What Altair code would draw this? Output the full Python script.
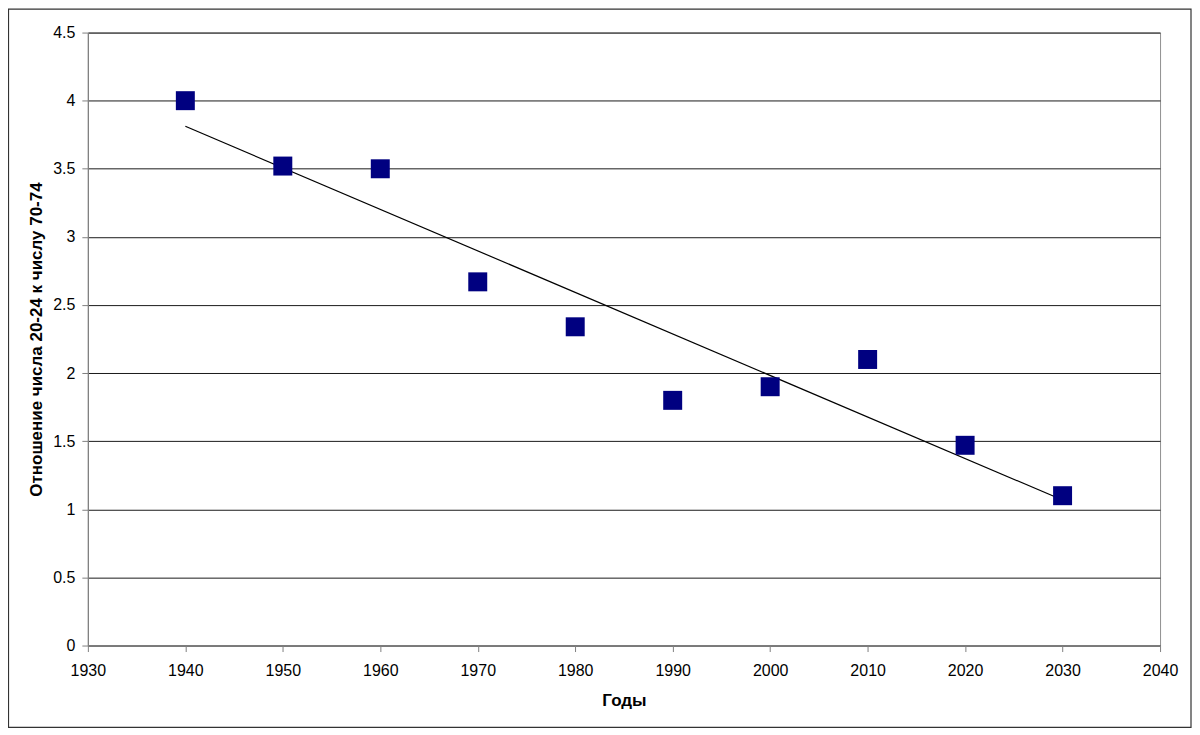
import altair as alt
import pandas as pd

years = [1940, 1950, 1960, 1970, 1980, 1990, 2000, 2010, 2020, 2030]
ratios = [4.0, 3.52, 3.5, 2.67, 2.34, 1.8, 1.9, 2.1, 1.47, 1.1]
x_ticks = [1930, 1940, 1950, 1960, 1970, 1980, 1990, 2000, 2010, 2020, 2030, 2040]
y_ticks = [0, 0.5, 1, 1.5, 2, 2.5, 3, 3.5, 4, 4.5]

df = pd.DataFrame({"year": years, "ratio": ratios})

FONT = "Liberation Sans"

x_enc = alt.X("year:Q", scale=alt.Scale(domain=[1930, 2040], nice=False, zero=False),
              axis=alt.Axis(values=x_ticks, format="d", title="Годы", grid=False,
                            labelPadding=11, titlePadding=14, labelFlush=False))
y_enc = alt.Y("ratio:Q", scale=alt.Scale(domain=[0, 4.5], nice=False),
              axis=alt.Axis(values=y_ticks, format="~g",
                            title="Отношение числа 20-24 к числу 70-74",
                            labelPadding=7, titlePadding=7, grid=True,
                            labelFlush=False))

base = alt.Chart(df)

trend = base.transform_regression("year", "ratio").mark_line(
    color="#000000", strokeWidth=1.2
).encode(x=x_enc, y=y_enc)

points = base.mark_point(
    shape="square", filled=True, size=361, color="#000080", opacity=1
).encode(x=x_enc, y=y_enc)

frame = alt.Chart(alt.Data(values=[{}])).mark_rect(
    fillOpacity=0, stroke="#333333", strokeWidth=1.2
).encode(
    x=alt.value(-79.5), x2=alt.value(1105),
    y=alt.value(-23.5), y2=alt.value(696)
)

chart = alt.layer(frame, trend, points).properties(
    width=1074, height=614,
    autosize=alt.AutoSizeParams(type="none"),
    padding={"left": 80, "top": 24, "right": 32, "bottom": 84},
    background="#ffffff"
).configure_view(
    stroke="#909090", strokeWidth=1
).configure_axis(
    labelFont=FONT, titleFont=FONT, labelFontSize=16, titleFontSize=17,
    titleFontWeight="bold", labelColor="#000000", titleColor="#000000",
    domainColor="#808080", tickColor="#808080", tickSize=6,
    gridColor="#1a1a1a", gridWidth=1, gridOpacity=1, domainWidth=1.2
)

chart.save("out.html", embed_options={"renderer": "svg", "actions": False})
